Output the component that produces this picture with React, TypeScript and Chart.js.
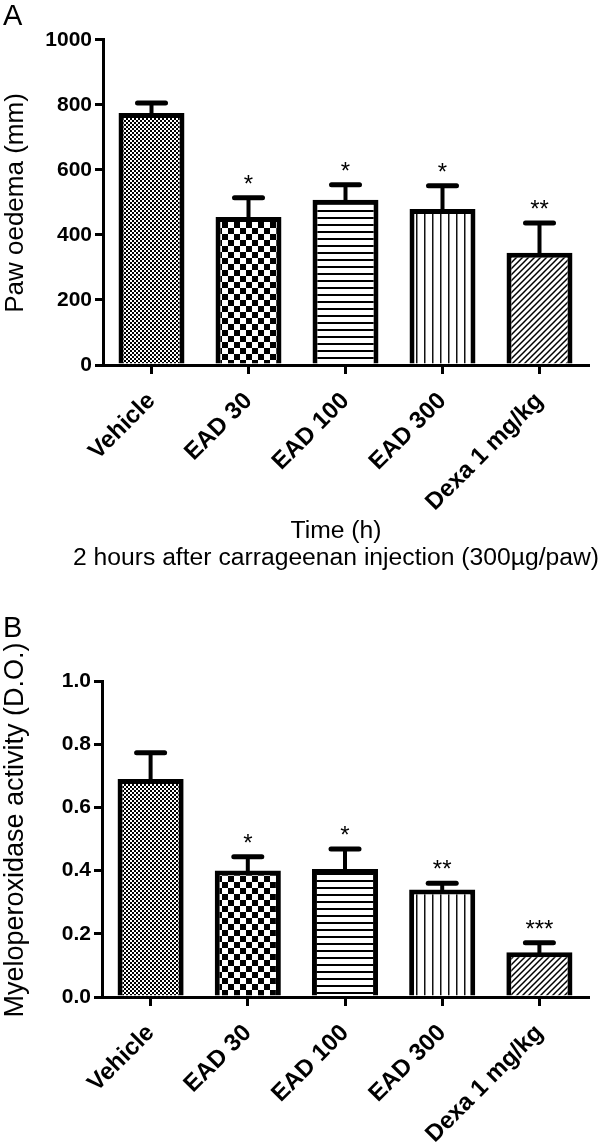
import React, { useEffect, useRef } from "react";
import { Chart, registerables } from "chart.js";

Chart.register(...registerables);

// ---------- data ----------
const categories = ["Vehicle", "EAD 30", "EAD 100", "EAD 300", "Dexa 1 mg/kg"];

const pawOedema = [775, 455, 508, 480, 345];
const pawOedemaSem = [31, 59, 46, 71, 92];
const pawStars = ["", "*", "*", "*", "**"];
const pawTicks = [0, 200, 400, 600, 800, 1000];
const pawXTitle = ["Time (h)", "2 hours after carrageenan injection (300µg/paw)"];
const pawYTitle = "Paw oedema (mm)";

const mpoActivity = [0.69, 0.4, 0.405, 0.34, 0.142];
const mpoSem = [0.083, 0.044, 0.063, 0.02, 0.03];
const mpoStars = ["", "*", "*", "**", "***"];
const mpoTicks = [0, 0.2, 0.4, 0.6, 0.8, 1.0];
const mpoYTitle = "Myeloperoxidase activity (D.O.)";

const patternKinds = ["fineChecker", "coarseChecker", "hLines", "vLines", "diagonal"];

const FONT = "'Liberation Sans', Arial, Helvetica, sans-serif";

// ---------- helpers ----------
function makePattern(kind: string): CanvasPattern | string {
  const c = document.createElement("canvas");
  let s = 4;
  if (kind === "fineChecker") s = 4;
  if (kind === "coarseChecker") s = 12;
  if (kind === "hLines") s = 7;
  if (kind === "vLines") s = 8;
  if (kind === "diagonal") s = 6;
  c.width = s;
  c.height = s;
  const g = c.getContext("2d");
  if (!g) return "#fff";
  g.fillStyle = "#fff";
  g.fillRect(0, 0, s, s);
  g.fillStyle = "#000";
  g.strokeStyle = "#000";
  if (kind === "fineChecker" || kind === "coarseChecker") {
    const h = s / 2;
    g.fillRect(0, 0, h, h);
    g.fillRect(h, h, h, h);
  } else if (kind === "hLines") {
    g.fillRect(0, 0, s, 2);
  } else if (kind === "vLines") {
    g.fillStyle = "#111";
    g.fillRect(0, 0, 1.5, s);
  } else if (kind === "diagonal") {
    g.lineWidth = 1.5;
    g.beginPath();
    g.moveTo(0, s);
    g.lineTo(s, 0);
    g.moveTo(-s / 2, s / 2);
    g.lineTo(s / 2, -s / 2);
    g.moveTo(s / 2, s * 1.5);
    g.lineTo(s * 1.5, s / 2);
    g.stroke();
  }
  return g.createPattern(c, "repeat") || "#fff";
}

function errorBarPlugin(values: number[], errors: number[], stars: string[]) {
  return {
    id: "errorBars",
    afterDatasetsDraw(chart: any) {
      const ctx: CanvasRenderingContext2D = chart.ctx;
      const meta = chart.getDatasetMeta(0);
      const yScale = chart.scales.y;
      ctx.save();
      meta.data.forEach((bar: any, i: number) => {
        const x = bar.x;
        const yTop = bar.y;
        const yCap = yScale.getPixelForValue(values[i] + errors[i]);
        ctx.strokeStyle = "#000";
        ctx.lineWidth = 4;
        ctx.lineCap = "butt";
        ctx.beginPath();
        ctx.moveTo(x, yTop + 2);
        ctx.lineTo(x, yCap);
        ctx.stroke();
        ctx.lineWidth = 5;
        ctx.lineCap = "round";
        ctx.beginPath();
        ctx.moveTo(x - 14, yCap);
        ctx.lineTo(x + 14, yCap);
        ctx.stroke();
        if (stars[i]) {
          ctx.fillStyle = "#000";
          ctx.font = `24px ${FONT}`;
          ctx.textAlign = "center";
          ctx.textBaseline = "alphabetic";
          ctx.fillText(stars[i], x, yCap - 6);
        }
      });
      ctx.restore();
    },
  };
}

// axis titles placed as in the original figure
function axisTitlePlugin(
  xLines: string[] | undefined,
  yTitle: string,
  ySize: number,
  yCenter: number
) {
  return {
    id: "axisTitles",
    afterDraw(chart: any) {
      const ctx: CanvasRenderingContext2D = chart.ctx;
      ctx.save();
      ctx.fillStyle = "#000";
      if (xLines) {
        ctx.font = `24.7px ${FONT}`;
        ctx.textAlign = "center";
        ctx.textBaseline = "alphabetic";
        xLines.forEach((t, i) => ctx.fillText(t, 336, 538 + i * 27));
      }
      ctx.translate(16, yCenter);
      ctx.rotate(-Math.PI / 2);
      ctx.font = `${ySize}px ${FONT}`;
      ctx.textAlign = "center";
      ctx.textBaseline = "middle";
      ctx.fillText(yTitle, 0, 0);
      ctx.restore();
    },
  };
}

type PanelProps = {
  top: number;
  height: number;
  letter: string;
  letterPadTop: number;
  letterPadBottom: number;
  values: number[];
  errors: number[];
  stars: string[];
  ticks: number[];
  decimals: number;
  yTitle: string;
  yTitleSize: number;
  yTitleCenter: number;
  yWidth: number;
  xHeight: number;
  xTitle?: string[];
};

function BarPanel(p: PanelProps) {
  const ref = useRef<HTMLCanvasElement | null>(null);
  useEffect(() => {
    if (!ref.current) return;
    const patterns = patternKinds.map((k) => makePattern(k));
    const tmin = p.ticks[0];
    const tmax = p.ticks[p.ticks.length - 1];
    const chart = new Chart(ref.current, {
      type: "bar",
      data: {
        labels: categories,
        datasets: [
          {
            data: p.values,
            backgroundColor: patterns as any,
            borderColor: "#000",
            borderWidth: 5,
            barPercentage: 0.68,
            categoryPercentage: 1,
          },
        ],
      },
      options: {
        responsive: false,
        animation: false,
        devicePixelRatio: 1,
        layout: { padding: { left: 3, right: 12, top: 0, bottom: 0 } },
        plugins: {
          legend: { display: false },
          tooltip: { enabled: false },
          subtitle: {
            display: true,
            text: p.letter,
            align: "start",
            color: "#000",
            font: { family: FONT, size: 29, weight: "normal" },
            padding: { top: p.letterPadTop, bottom: p.letterPadBottom },
          },
          title: { display: false },
        },
        scales: {
          x: {
            offset: true,
            grid: {
              display: true,
              offset: false,
              drawOnChartArea: false,
              drawTicks: true,
              tickLength: 9,
              color: "#000",
              lineWidth: 3,
            },
            border: { display: true, color: "#000", width: 3 },
            ticks: {
              color: "#000",
              font: { family: FONT, size: 24, weight: "bold" },
              minRotation: 45,
              maxRotation: 45,
              autoSkip: false,
              padding: 13,
            },
            afterFit: (s: any) => {
              s.height = p.xHeight;
            },
          },
          y: {
            min: tmin,
            max: tmax,
            grid: {
              display: true,
              drawOnChartArea: false,
              drawTicks: true,
              tickLength: 8,
              color: "#000",
              lineWidth: 3,
            },
            border: { display: true, color: "#000", width: 3 },
            afterBuildTicks: (s: any) => {
              s.ticks = p.ticks.map((v) => ({ value: v }));
            },
            ticks: {
              color: "#000",
              font: { family: FONT, size: 21, weight: "bold" },
              padding: 3,
              callback: (v: any) => Number(v).toFixed(p.decimals),
            },
            title: { display: false },
            afterFit: (s: any) => {
              s.width = p.yWidth;
            },
          },
        },
      },
      plugins: [
        errorBarPlugin(p.values, p.errors, p.stars),
        axisTitlePlugin(p.xTitle, p.yTitle, p.yTitleSize, p.yTitleCenter),
      ],
    } as any);
    return () => chart.destroy();
  }, []);
  return (
    <canvas
      ref={ref}
      width={600}
      height={p.height}
      style={{ position: "absolute", left: 0, top: p.top, width: 600, height: p.height }}
    />
  );
}

export default function App() {
  return (
    <div style={{ position: "absolute", left: 0, top: 0, width: 600, height: 1147, background: "#fff" }}>
      <BarPanel
        top={0}
        height={600}
        letter="A"
        letterPadTop={0}
        letterPadBottom={5}
        values={pawOedema}
        errors={pawOedemaSem}
        stars={pawStars}
        ticks={pawTicks}
        decimals={0}
        yTitle={pawYTitle}
        yTitleSize={26}
        yTitleCenter={203}
        yWidth={100}
        xHeight={235}
        xTitle={pawXTitle}
      />
      <BarPanel
        top={600}
        height={547}
        letter="B"
        letterPadTop={12}
        letterPadBottom={34.2}
        values={mpoActivity}
        errors={mpoSem}
        stars={mpoStars}
        ticks={mpoTicks}
        decimals={1}
        yTitle={mpoYTitle}
        yTitleSize={27}
        yTitleCenter={230}
        yWidth={99}
        xHeight={150}
      />
    </div>
  );
}
